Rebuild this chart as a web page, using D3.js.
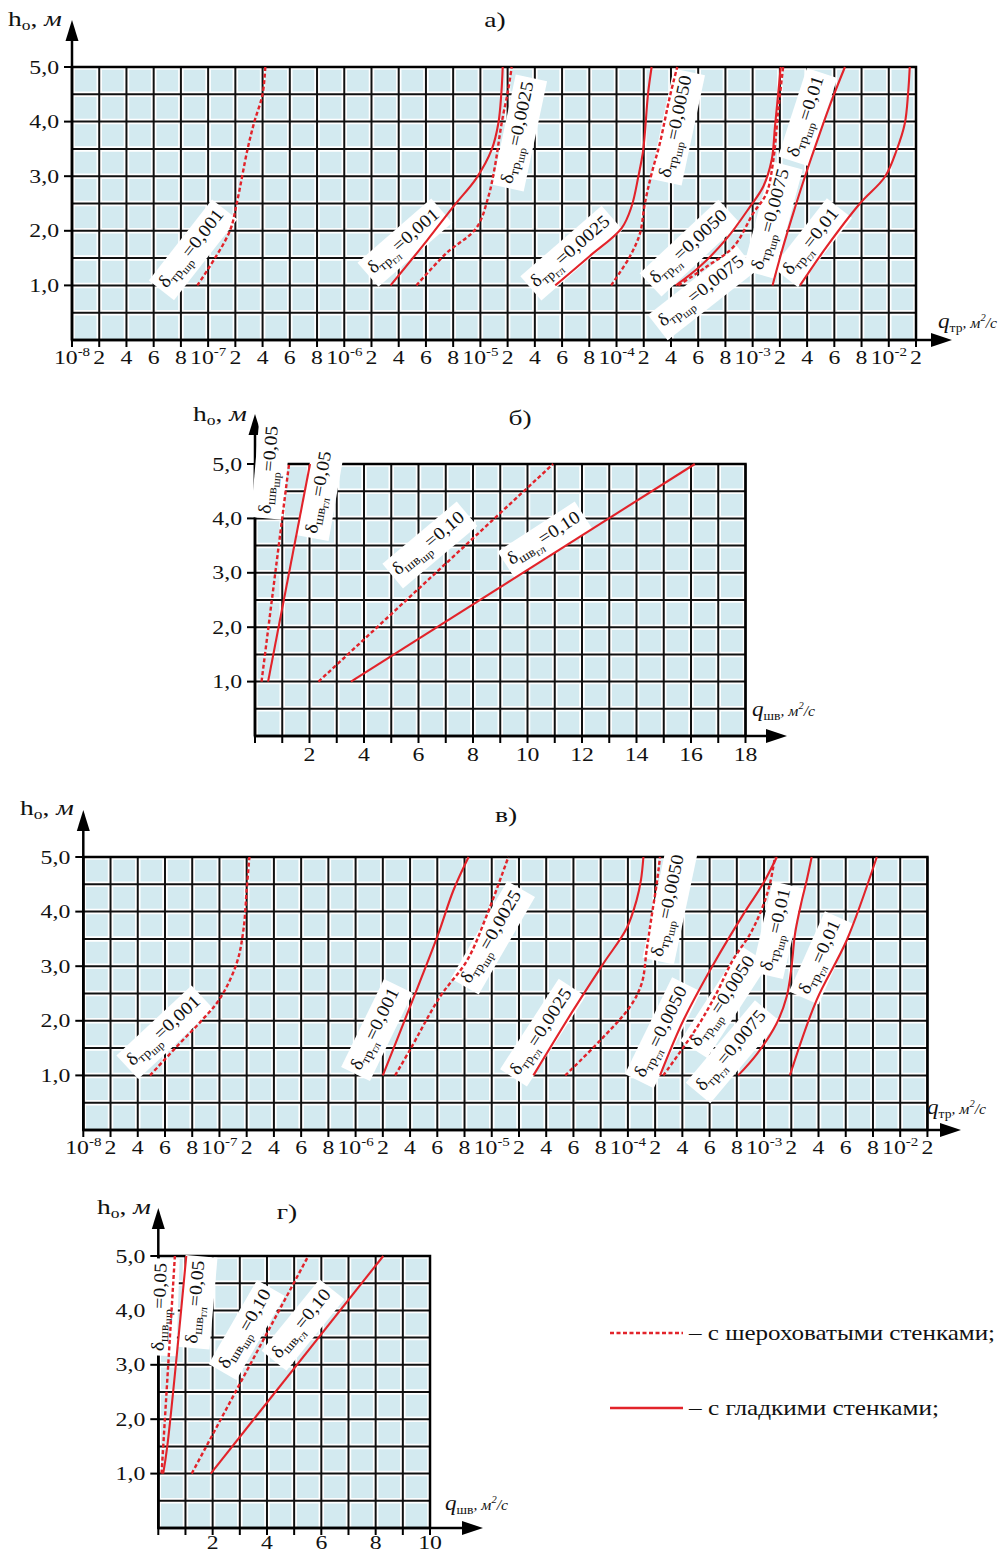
<!DOCTYPE html>
<html><head><meta charset="utf-8">
<script src="https://cdn.jsdelivr.net/npm/d3@7"></script>
<style>
body{margin:0;background:#fff}
svg{display:block}
text{font-family:"Liberation Serif","Times New Roman",serif;fill:#111}
</style>
</head><body>
<svg id="c" width="1008" height="1555"></svg>
<script>
// ---------- tick values / labels ----------
const qTrTicks = [1e-8,2e-8,4e-8,6e-8,8e-8,1e-7,2e-7,4e-7,6e-7,8e-7,1e-6,2e-6,4e-6,6e-6,8e-6,1e-5,2e-5,4e-5,6e-5,8e-5,1e-4,2e-4,4e-4,6e-4,8e-4,1e-3,2e-3,4e-3,6e-3,8e-3,1e-2,2e-2];
const qTrTickLabels = ["10^-8","2","4","6","8","10^-7","2","4","6","8","10^-6","2","4","6","8","10^-5","2","4","6","8","10^-4","2","4","6","8","10^-3","2","4","6","8","10^-2","2"];
const hTicks = [1,2,3,4,5];
const hTickLabels = ["1,0","2,0","3,0","4,0","5,0"];
const qShvTicksB = [2,4,6,8,10,12,14,16,18];
const qShvTickLabelsB = ["2","4","6","8","10","12","14","16","18"];
const qShvTicksG = [2,4,6,8,10];
const qShvTickLabelsG = ["2","4","6","8","10"];
const legendLabels = ["– с шероховатыми стенками;","– с гладкими стенками;"];

// ---------- panel а) : [q_тр, h_o] ----------
const aRough0001  = [[9.2e-8,1.0],[1.0e-7,1.3],[1.8e-7,2.0],[2.1e-7,2.5],[2.9e-7,3.5],[3.4e-7,4.0],[4.0e-7,4.5],[4.2e-7,5.0]];
const aSmooth0001 = [[3.4e-6,1.0],[6.1e-6,1.83],[8.1e-6,2.47],[9.7e-6,2.96],[1.41e-5,3.48],[1.66e-5,3.97],[1.77e-5,4.52],[1.82e-5,5.0]];
const aRough0025  = [[5.3e-6,1.0],[7.5e-6,1.59],[9.7e-6,2.05],[1.29e-5,2.62],[1.53e-5,3.17],[1.78e-5,3.97],[2.04e-5,4.58],[2.3e-5,5.0]];
const aSmooth0025 = [[5.5e-5,1.0],[8.0e-5,1.53],[1.19e-4,2.05],[1.55e-4,2.44],[1.8e-4,2.99],[1.98e-4,3.48],[2.32e-4,4.52],[2.58e-4,5.0]];
const aRough0050  = [[9.6e-5,1.0],[1.49e-4,1.53],[1.86e-4,1.95],[2.08e-4,2.5],[2.58e-4,3.05],[3.18e-4,3.6],[3.92e-4,4.46],[4.46e-4,5.0]];
const aSmooth0050 = [[4.36e-4,1.0],[6.1e-4,1.34],[8.1e-4,1.86],[9.8e-4,2.44],[1.39e-3,2.81],[1.7e-3,3.3],[1.82e-3,3.91],[1.94e-3,4.52],[2.06e-3,5.0]];
const aRough0075  = [[4.54e-4,1.0],[6.6e-4,1.34],[8.6e-4,1.71],[1.02e-3,2.32],[1.51e-3,2.69],[1.76e-3,3.3],[1.94e-3,4.21],[2.24e-3,5.0]];
const aSmooth0075 = [[1.73e-3,1.0],[2.24e-3,1.71],[2.98e-3,2.32],[3.84e-3,2.99],[4.94e-3,3.79],[5.92e-3,4.46],[6.78e-3,5.0]];
const aSmooth001  = [[3.48e-3,1.0],[5.44e-3,1.71],[7.88e-3,2.5],[9.72e-3,2.99],[1.29e-2,3.48],[1.59e-2,3.97],[1.71e-2,4.52],[1.77e-2,5.0]];

// ---------- panel б) : [q_шв, h_o] ----------
const bRough005  = [[0.24,1.0],[1.25,5.0]];
const bSmooth005 = [[0.48,1.0],[2.02,5.0]];
const bRough010  = [[2.33,1.0],[10.94,5.0]];
const bSmooth010 = [[3.52,1.0],[16.14,5.0]];

// ---------- panel в) : [q_тр, h_o] ----------
const vRough0001   = [[4.9e-8,1.0],[7.1e-8,1.59],[8.6e-8,1.98],[1.02e-7,2.41],[1.63e-7,3.05],[1.88e-7,3.66],[2.0e-7,4.4],[2.2e-7,5.0]];
const vSmooth0001  = [[2.0e-6,1.0],[4.0e-6,2.26],[6.0e-6,3.54],[7.2e-6,4.4],[8.3e-6,5.0]];
const vRough0025   = [[2.9e-6,1.0],[4.0e-6,1.47],[6.2e-6,2.44],[8.2e-6,3.11],[9.6e-6,3.91],[1.61e-5,5.0]];
const vSmooth0025  = [[3.06e-5,1.0],[6.0e-5,2.2],[8.2e-5,3.05],[9.9e-5,3.69],[1.32e-4,4.21],[1.48e-4,4.58],[1.57e-4,5.0]];
const vRough0050a  = [[5.4e-5,1.0],[8.0e-5,1.65],[1.08e-4,2.26],[1.51e-4,2.69],[1.69e-4,3.3],[1.87e-4,3.91],[2.12e-4,4.52],[2.36e-4,5.0]];
const vSmooth0050  = [[2.36e-4,1.0],[4.06e-4,2.0],[6.2e-4,3.0],[8.6e-4,4.0],[9.9e-4,4.5],[1.47e-3,5.0]];
const vRough0050b  = [[2.6e-4,1.0],[5.1e-4,1.89],[6.5e-4,2.5],[7.7e-4,3.11],[9.0e-4,3.6],[9.9e-4,4.09],[1.22e-3,4.52],[1.4e-3,5.0]];
const vSmooth0075  = [[8.1e-4,1.0],[9.5e-4,1.4],[1.46e-3,1.95],[1.83e-3,2.44],[2.02e-3,2.99],[2.28e-3,3.6],[2.78e-3,4.21],[3.14e-3,4.58],[3.5e-3,5.0]];
const vSmooth001   = [[1.95e-3,1.0],[3.86e-3,2.38],[6.08e-3,3.48],[8.28e-3,5.0]];

// ---------- panel г) : [q_шв, h_o] ----------
const gRough005  = [[0.12,1.0],[0.61,5.0]];
const gSmooth005 = [[0.18,1.0],[0.33,1.5],[1.03,5.0]];
const gRough010  = [[1.23,1.0],[5.52,5.0]];
const gSmooth010 = [[1.93,1.0],[8.28,5.0]];

// ---------- curve labels: [sub, subsub, value, q, h, angle] ----------
const aLabels = [
 ["тр","шр","=0,001",8.9e-8,1.65,-52],
 ["тр","гл","=0,001",4.46e-6,1.78,-41],
 ["тр","шр","=0,0025",2.9e-5,3.79,-78],
 ["тр","гл","=0,0025",6.7e-5,1.59,-41],
 ["тр","шр","=0,0050",4.5e-4,3.90,-78],
 ["тр","гл","=0,0050",5.4e-4,1.68,-43],
 ["тр","шр","=0,0075",6.3e-4,0.86,-38],
 ["тр","шр","=0,0075",1.74e-3,2.2,-75],
 ["тр","шр","=0,01",4.06e-3,4.08,-72],
 ["тр","гл","=0,01",4.4e-3,1.78,-52]
];
const bLabels = [
 ["шв","шр","=0,05",0.59,4.89,-85],
 ["шв","гл","=0,05",2.42,4.47,-80],
 ["шв","шр","=0,10",6.42,3.51,-40],
 ["шв","гл","=0,10",10.64,3.60,-33]
];
const vLabels = [
 ["тр","шр","=0,001",6e-8,1.79,-43],
 ["тр","гл","=0,001",1.79e-6,1.83,-64],
 ["тр","шр","=0,0025",1.05e-5,3.52,-60],
 ["тр","гл","=0,0025",3.76e-5,1.78,-57],
 ["тр","шр","=0,0050",3.1e-4,4.10,-78],
 ["тр","гл","=0,0050",2.58e-4,1.78,-64],
 ["тр","шр","=0,0050",7.1e-4,2.34,-57],
 ["тр","гл","=0,0075",7.7e-4,1.43,-50],
 ["тр","шр","=0,01",1.51e-3,3.66,-77],
 ["тр","гл","=0,01",4.24e-3,3.15,-66]
];
const gLabels = [
 ["шв","шр","=0,05",0.14,4.06,-88],
 ["шв","гл","=0,05",1.45,4.15,-85],
 ["шв","шр","=0,10",3.26,3.64,-60],
 ["шв","гл","=0,10",5.33,3.73,-51]
];

// ---------- drawing ----------
const svg = d3.select("#c");
const RED = "#e2232a";
const STR = 1.25; // horizontal stretch of the scanned typeface

function polyScale(x0, cell){
  return d3.scaleLinear().domain(qTrTicks).range(qTrTicks.map((d,i)=>x0+i*cell));
}

const panels = [
 { x: polyScale(72, 27.226), y: d3.scaleLinear().domain([0,5]).range([340,67]),
   grid: qTrTicks, xTicks: qTrTicks, xLabels: qTrTickLabels, yTip: 20, xTip: 952, xlOff: 24,
   title: "а)", titlePos:[495,27], yLab:[8,26], xLab:[938,328], xSub:"тр",
   series: [[aRough0001,1],[aSmooth0001,0],[aRough0025,1],[aSmooth0025,0],[aRough0050,1],[aSmooth0050,0],[aRough0075,1],[aSmooth0075,0],[aSmooth001,0]],
   labels: aLabels },
 { x: d3.scaleLinear().domain([0,18]).range([255,745.5]), y: d3.scaleLinear().domain([0,5]).range([736,464]),
   grid: d3.range(0,19), xTicks: d3.range(0,19), xLabelVals: qShvTicksB, xLabels: qShvTickLabelsB, yTip: 414, xTip: 787, xlOff: 25,
   title: "б)", titlePos:[520,425], yLab:[193,421], xLab:[752,716], xSub:"шв",
   series: [[bRough005,1],[bSmooth005,0],[bRough010,1],[bSmooth010,0]],
   labels: bLabels },
 { x: polyScale(83.3, 27.23), y: d3.scaleLinear().domain([0,5]).range([1130,857]),
   grid: qTrTicks, xTicks: qTrTicks, xLabels: qTrTickLabels, yTip: 810, xTip: 961, xlOff: 24,
   title: "в)", titlePos:[506,822], yLab:[20,815], xLab:[927,1114], xSub:"тр",
   series: [[vRough0001,1],[vSmooth0001,0],[vRough0025,1],[vSmooth0025,0],[vRough0050a,1],[vSmooth0050,0],[vRough0050b,1],[vSmooth0075,0],[vSmooth001,0]],
   labels: vLabels },
 { x: d3.scaleLinear().domain([0,10]).range([158.3,430]), y: d3.scaleLinear().domain([0,5]).range([1528,1256]),
   grid: d3.range(0,11), xTicks: d3.range(0,11), xLabelVals: qShvTicksG, xLabels: qShvTickLabelsG, yTip: 1208, xTip: 483, xlOff: 21,
   title: "г)", titlePos:[287,1219], yLab:[97,1214], xLab:[445,1510], xSub:"шв",
   series: [[gRough005,1],[gSmooth005,0],[gRough010,1],[gSmooth010,0]],
   labels: gLabels }
];

function stretchedText(g, x, y, anchor, size, s){
  return g.append("text").attr("transform",`translate(${x},${y}) scale(${s||STR},1)`)
    .attr("text-anchor",anchor).attr("font-size",size);
}

function drawPanel(p){
  const g = svg.append("g");
  const xr = p.x.range();
  const x0 = xr[0], x1 = xr[xr.length-1];
  const yb = p.y(0), yt = p.y(5);
  const hGrid = d3.range(1,11).map(i=>i*0.5);

  g.append("rect").attr("x",x0).attr("y",yt).attr("width",x1-x0).attr("height",yb-yt).attr("fill","#d3eaf0");
  const wl = g.append("g").attr("stroke","#fff").attr("stroke-width",5.5);
  p.grid.forEach(v=>wl.append("line").attr("x1",p.x(v)).attr("x2",p.x(v)).attr("y1",yt).attr("y2",yb));
  hGrid.forEach(v=>wl.append("line").attr("x1",x0).attr("x2",x1).attr("y1",p.y(v)).attr("y2",p.y(v)));
  const bl = g.append("g").attr("stroke","#111").attr("stroke-width",2);
  p.grid.forEach(v=>bl.append("line").attr("x1",p.x(v)).attr("x2",p.x(v)).attr("y1",yt).attr("y2",yb));
  hGrid.forEach(v=>bl.append("line").attr("x1",x0).attr("x2",x1).attr("y1",p.y(v)).attr("y2",p.y(v)));
  g.append("rect").attr("x",x0).attr("y",yt).attr("width",x1-x0).attr("height",yb-yt)
    .attr("fill","none").attr("stroke","#000").attr("stroke-width",2.5);

  // axes with arrows
  g.append("line").attr("x1",x0).attr("x2",x0).attr("y1",yb).attr("y2",p.yTip+18).attr("stroke","#000").attr("stroke-width",2.5);
  g.append("path").attr("d",`M${x0},${p.yTip} L${x0-6.5},${p.yTip+21} L${x0+6.5},${p.yTip+21} Z`).attr("fill","#000");
  g.append("line").attr("x1",x0).attr("x2",p.xTip-18).attr("y1",yb).attr("y2",yb).attr("stroke","#000").attr("stroke-width",2.5);
  g.append("path").attr("d",`M${p.xTip},${yb} L${p.xTip-21},${yb-7} L${p.xTip-21},${yb+7} Z`).attr("fill","#000");

  // y ticks
  hTicks.forEach((v,i)=>{
    g.append("line").attr("x1",x0-8).attr("x2",x0).attr("y1",p.y(v)).attr("y2",p.y(v)).attr("stroke","#000").attr("stroke-width",2);
    stretchedText(g, x0-13, p.y(v)+6.5, "end", 19).text(hTickLabels[i]);
  });
  // x ticks
  p.xTicks.forEach(v=>g.append("line").attr("x1",p.x(v)).attr("x2",p.x(v)).attr("y1",yb).attr("y2",yb+7).attr("stroke","#000").attr("stroke-width",2));
  const lv = p.xLabelVals || p.xTicks;
  lv.forEach((v,i)=>{
    const lab = p.xLabels[i];
    const t = stretchedText(g, p.x(v), yb+p.xlOff, "middle", 19);
    if(lab.includes("^")){
      const [b,e] = lab.split("^");
      t.append("tspan").text(b);
      t.append("tspan").attr("font-size",12).attr("dy",-8).text(e);
    } else t.text(lab);
  });

  // title
  stretchedText(g, p.titlePos[0], p.titlePos[1], "middle", 22).text(p.title);
  // y label
  const yl = stretchedText(g, p.yLab[0], p.yLab[1], "start", 22);
  yl.append("tspan").text("h");
  yl.append("tspan").attr("font-size",14).attr("dy",4).text("o");
  yl.append("tspan").attr("dy",-4).text(", ");
  yl.append("tspan").attr("font-style","italic").text("м");
  // x label
  const xl = stretchedText(g, p.xLab[0], p.xLab[1], "start", 22, 1.05);
  xl.append("tspan").attr("font-style","italic").text("q");
  xl.append("tspan").attr("font-size",13).attr("dy",4).text(p.xSub);
  xl.append("tspan").attr("font-size",15).attr("dy",-4).attr("font-style","italic").text(", м");
  xl.append("tspan").attr("font-size",10).attr("dy",-7).attr("font-style","italic").text("2");
  xl.append("tspan").attr("font-size",15).attr("dy",7).attr("font-style","italic").text("/с");

  // curve labels
  p.labels.forEach(L=>{
    const [s1,s2,val,q,h,ang] = L;
    const lg = g.append("g").attr("transform",`translate(${p.x(q)},${p.y(h)}) rotate(${ang}) scale(1.1,1)`);
    const rect = lg.append("rect").attr("fill","#fff");
    const t = lg.append("text").attr("text-anchor","middle").attr("font-size",18).attr("y",3);
    t.append("tspan").text("δ");
    t.append("tspan").attr("font-size",13).attr("dy",4).text(s1);
    t.append("tspan").attr("font-size",11).attr("dy",3).text(s2);
    t.append("tspan").attr("font-size",18).attr("dy",-7).text(val);
    const bb = t.node().getBBox();
    rect.attr("x",bb.x-4).attr("y",bb.y-3).attr("width",bb.width+8).attr("height",bb.height+6);
  });

  // curves
  const line = d3.line().x(d=>p.x(d[0])).y(d=>p.y(d[1])).curve(d3.curveCatmullRom.alpha(0.5));
  p.series.forEach(([pts,dashed])=>{
    g.append("path").attr("d",line(pts)).attr("fill","none").attr("stroke",RED)
      .attr("stroke-width",dashed?2.4:2.1)
      .attr("stroke-dasharray",dashed?"4,2.5":null);
  });
}

panels.forEach(drawPanel);

// legend
const lgd = svg.append("g");
[[1333,true,306],[1408,false,250]].forEach(([yy,dashed,len],i)=>{
  lgd.append("line").attr("x1",610).attr("x2",683).attr("y1",yy).attr("y2",yy)
    .attr("stroke",RED).attr("stroke-width",2.4).attr("stroke-dasharray",dashed?"4,2.5":null);
  lgd.append("text").attr("x",689).attr("y",yy+7).attr("font-size",22)
    .attr("textLength",len).attr("lengthAdjust","spacingAndGlyphs").text(legendLabels[i]);
});
</script>
</body></html>
